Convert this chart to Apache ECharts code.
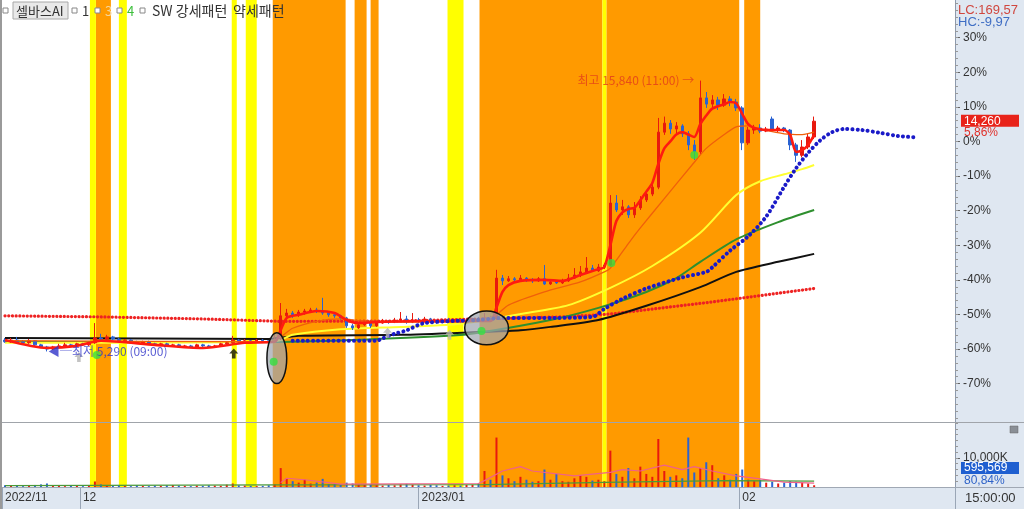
<!DOCTYPE html>
<html><head><meta charset="utf-8">
<script src="https://cdn.jsdelivr.net/npm/echarts@6/dist/echarts.min.js"></script>
<style>html,body{margin:0;padding:0;background:#fff;}#c{width:1024px;height:509px;}</style>
</head><body><div id="c"></div>
<script>
// ---------- DATA ----------
const N = 159; // bar slots on the time axis (incl. projection area)
// candles: [open, close, low, high] in % vs reference price
const candles = [
[-57.4,-57.9,-58.2,-56.8],[-57.9,-57.4,-58.2,-56.8],[-57.4,-57.9,-58.5,-56.5],[-57.9,-58.2,-58.8,-57.4],
[-58.2,-57.6,-58.5,-57.1],[-57.6,-58.8,-59.1,-57.4],[-58.8,-59.4,-59.7,-58.5],[-59.4,-60.0,-60.7,-59.1],
[-60.0,-59.4,-60.3,-59.1],[-59.4,-59.1,-59.7,-58.5],[-59.1,-58.8,-59.4,-58.2],[-58.8,-59.1,-59.4,-58.5],
[-59.1,-58.5,-59.4,-58.2],[-58.5,-58.8,-59.1,-58.2],[-58.8,-58.2,-59.1,-57.9],[-58.2,-56.8,-58.5,-52.5],
[-56.8,-57.1,-57.6,-55.6],[-57.1,-56.5,-57.4,-55.9],[-56.5,-57.1,-57.4,-56.2],[-57.1,-57.6,-57.9,-56.8],
[-57.6,-57.4,-57.9,-57.1],[-57.4,-57.9,-58.2,-57.1],[-57.9,-58.2,-58.5,-57.6],[-58.2,-57.9,-58.5,-57.6],
[-57.9,-58.5,-58.8,-57.6],[-58.5,-58.8,-59.1,-58.2],[-58.8,-58.5,-59.1,-58.2],[-58.5,-59.1,-59.4,-58.2],
[-59.1,-58.8,-59.4,-58.5],[-58.8,-59.4,-59.7,-58.5],[-59.4,-59.1,-59.7,-58.8],[-59.1,-59.4,-59.7,-58.8],
[-59.4,-58.8,-59.7,-58.5],[-58.8,-59.1,-59.4,-58.5],[-59.1,-59.4,-59.7,-58.8],[-59.4,-59.1,-59.7,-58.8],
[-59.1,-58.5,-59.4,-58.2],[-58.5,-58.2,-58.8,-57.9],[-58.2,-57.4,-58.5,-56.2],[-57.4,-57.9,-58.2,-57.1],
[-57.9,-57.6,-58.2,-57.1],[-57.6,-57.9,-58.2,-57.4],[-57.9,-57.4,-58.2,-57.1],[-57.4,-57.6,-57.9,-57.1],
[-57.6,-57.9,-58.2,-57.4],[-57.9,-57.1,-58.2,-55.9],[-57.1,-50.4,-57.4,-46.7],[-50.4,-49.6,-51.6,-48.4],
[-49.6,-50.1,-51.0,-49.0],[-50.1,-49.3,-50.7,-48.7],[-49.3,-49.0,-50.1,-48.4],[-49.0,-48.7,-49.6,-48.1],
[-48.7,-49.0,-49.6,-48.1],[-49.0,-49.6,-50.1,-45.2],[-49.6,-50.1,-50.7,-49.3],[-50.1,-50.4,-51.0,-49.6],
[-50.4,-51.0,-51.6,-50.1],[-51.0,-53.3,-53.9,-50.7],[-53.3,-53.9,-54.5,-52.7],[-53.9,-53.0,-54.2,-52.5],
[-53.0,-52.2,-53.3,-51.6],[-52.2,-53.3,-53.9,-51.9],[-53.3,-52.5,-53.6,-52.2],[-52.5,-51.9,-52.7,-51.3],
[-51.9,-52.2,-52.7,-51.6],[-52.2,-51.6,-52.5,-51.0],[-51.6,-51.3,-52.2,-49.3],[-51.3,-52.2,-52.7,-50.4],
[-52.2,-51.6,-52.5,-49.6],[-51.6,-51.9,-52.5,-51.0],[-51.9,-51.3,-52.2,-50.7],[-51.3,-51.9,-52.5,-51.0],
[-51.9,-52.2,-52.7,-51.6],[-52.2,-51.6,-52.5,-51.3],[-51.6,-51.9,-52.2,-51.0],[-51.9,-51.6,-52.2,-51.3],
[-51.6,-52.2,-52.5,-51.3],[-52.2,-51.9,-52.5,-51.6],[-51.9,-51.3,-52.2,-51.0],[-51.3,-51.6,-51.9,-50.7],
[-51.6,-51.0,-51.9,-49.6],[-51.0,-51.3,-51.9,-50.4],[-51.3,-39.5,-51.6,-37.1],[-39.5,-40.3,-41.5,-38.6],
[-40.3,-39.7,-40.6,-38.9],[-39.7,-40.0,-40.6,-39.2],[-40.0,-39.5,-40.3,-38.6],[-39.5,-40.0,-40.6,-39.2],
[-40.0,-40.3,-40.9,-39.5],[-40.3,-39.7,-40.6,-39.2],[-39.7,-41.2,-41.5,-35.7],[-41.2,-40.6,-41.5,-40.0],
[-40.6,-40.9,-41.2,-40.3],[-40.9,-40.3,-41.2,-39.7],[-40.3,-39.5,-40.6,-38.3],[-39.5,-38.6,-39.7,-36.6],
[-38.6,-37.7,-39.2,-36.0],[-37.7,-36.6,-38.0,-33.4],[-36.6,-37.4,-37.7,-35.7],[-37.4,-36.3,-37.7,-35.4],
[-36.3,-35.7,-36.9,-35.1],[-35.7,-17.8,-36.0,-15.5],[-17.8,-19.8,-20.4,-15.5],[-19.8,-18.9,-21.2,-16.9],
[-18.9,-21.2,-22.1,-18.4],[-21.2,-19.2,-22.1,-17.5],[-19.2,-16.9,-19.8,-15.8],[-16.9,-15.2,-17.5,-14.3],
[-15.2,-13.2,-15.8,-12.3],[-13.2,2.7,-13.8,6.8],[2.7,5.3,1.9,7.2],[5.3,3.6,2.2,6.2],
[3.6,4.5,1.9,5.6],[4.5,2.2,1.3,5.0],[2.2,-1.0,-2.5,3.0],[-1.0,-3.0,-5.3,0.4],
[-3.0,12.6,-3.6,17.6],[12.6,10.8,9.7,14.3],[10.8,12.0,9.4,13.4],[12.0,10.5,9.1,12.9],
[10.5,12.3,10.0,13.7],[12.3,11.4,10.2,13.1],[11.4,9.7,8.8,12.3],[9.7,-0.4,-2.5,10.2],
[-0.4,3.3,-1.0,4.2],[3.3,3.9,2.2,4.8],[3.9,3.0,2.4,5.0],[3.0,3.6,2.7,4.2],
[6.5,3.3,3.0,7.2],[3.3,3.9,2.7,4.5],[3.9,3.3,2.7,4.2],[3.3,-1.0,-2.5,3.6],
[-1.0,-4.0,-5.9,-0.4],[-4.0,-1.6,-4.6,0.4],[-1.6,1.3,-2.2,2.2],[1.3,5.86,0.7,7.2]
];
// volume per bar (thousand shares)
const volumes = [
600,400,500,300,400,700,900,1200,600,400,300,500,400,300,500,
1900,900,600,400,
500,400,300,600,400,300,500,400,600,700,500,400,300,500,400,600,500,400,800,1200,600,500,400,300,400,600,900,
6500,3000,2000,1500,2500,1200,1500,2800,1000,900,800,1500,1200,900,700,800,600,
500,700,600,900,1100,800,600,500,700,600,400,500,600,500,700,800,1200,
5500,2500,17000,4000,3000,2000,3500,2500,1800,2000,6000,2500,4500,2000,1800,3000,4000,3500,2200,2500,2000,
12500,4500,3500,6500,3000,7000,4500,3500,16500,5500,3500,4000,3000,17000,5000,6500,8500,7500,3000,4000,2500,4500,6000,2500,2000,2500,1500,1800,1200,1500,2000,1800,1500,1200,596
];
// moving averages: [bar, %]
const maShort = [[0,-57.4],[7,-59.7],[12,-59.1],[16,-57.6],[25,-58.8],[33,-59.7],[40,-58.2],[45,-57.9],[46,-54.5],[47,-51.0],[49,-50.1],[52,-49.0],[55,-49.6],[57,-51.6],[59,-52.5],[62,-52.2],[70,-51.9],[81,-51.9],[82,-48.0],[83,-43.5],[84,-41.5],[86,-40.3],[90,-40.0],[93,-40.3],[96,-38.6],[99,-36.9],[100,-36.3],[101,-30.0],[102,-23.0],[103,-20.5],[104,-19.5],[105,-19.2],[106,-17.0],[107,-14.5],[108,-12.0],[109,-6.5],[110,-2.0],[111,0.0],[112,2.0],[113,2.7],[114,2.0],[115,1.3],[116,5.0],[117,7.5],[118,9.5],[120,10.8],[121,11.4],[122,11.0],[123,8.0],[124,5.0],[125,3.9],[127,3.3],[130,3.3],[131,1.9],[132,-3.0],[133,-2.5],[134,-1.0],[135,1.9]];
const maMid = [[0,-57.6],[44,-57.9],[46,-56.5],[48,-54.0],[52,-52.0],[56,-51.3],[60,-51.9],[70,-52.2],[79,-51.9],[82,-50.0],[84,-47.3],[90,-43.5],[96,-40.6],[100,-37.7],[101,-36.6],[104,-29.5],[106,-25.0],[110,-16.5],[115,-6.0],[117,-2.0],[120,2.0],[122,4.2],[124,4.5],[126,3.6],[130,2.2],[133,2.0],[135,2.7]];
const maYellow = [[0,-58.2],[44,-58.0],[46,-57.4],[48,-55.9],[56,-54.3],[66,-53.6],[74,-53.0],[79,-52.0],[86,-49.9],[94,-47.3],[101,-42.3],[108,-36.0],[116,-26.4],[122,-15.5],[126,-11.5],[130,-9.5],[133,-8.0],[135,-6.8]];
const maGreen = [[0,-58.0],[44,-58.0],[58,-57.4],[74,-56.2],[79,-55.3],[91,-51.6],[99,-48.1],[107,-43.5],[112,-39.5],[116,-34.8],[122,-28.3],[129,-23.3],[135,-19.8]];
const maBlack = [[0,-56.8],[44,-57.1],[49,-56.2],[66,-55.9],[79,-55.1],[86,-54.6],[91,-53.6],[99,-51.6],[107,-47.5],[116,-42.1],[122,-37.7],[129,-34.8],[135,-32.5]];
const maLong = [[0,-50.4],[16,-50.7],[33,-51.3],[46,-52.0],[66,-51.9],[79,-51.3],[93,-50.7],[101,-49.9],[118,-46.4],[135,-42.5]];
const blueDots = [[48,-57.6],[62,-57.6],[63,-56.9],[65,-55.6],[67,-54.6],[70,-52.5],[79,-51.6],[83,-51.0],[92,-51.0],[98,-50.7],[100,-48.4],[103,-45.5],[107,-42.5],[113,-39.3],[117,-37.7],[118,-36.4],[121,-31.5],[124,-27.4],[127,-21.7],[130,-13.1],[132,-7.7],[134,-3.3],[136,0.3],[138,2.7],[140,3.6],[143,3.3],[146,2.5],[149,1.6],[152,1.2]];
const volMaPink = [[46,1500],[47,3000],[50,2500],[56,1000],[79,1200],[80,2200],[83,5500],[86,7000],[88,5500],[95,3800],[101,5000],[103,6000],[106,5500],[110,7500],[113,6000],[115,7000],[118,5500],[122,3800],[126,2800],[130,1700],[135,1300]];
const volMaGreen = [[0,500],[46,700],[80,800],[100,1600],[120,2200],[135,2000]];
// pattern periods (bar units, start-end)
const strongBands = [[15.67,18.17],[45.17,57.33],[58.83,60.83],[61.5,62.83],[79.67,100.17],[100.83,123],[123.83,126.5]];
const weakBands = [[14.67,15.67],[19.5,20.83],[38.33,39.17],[40.67,42.5],[74.33,77],[100.17,100.83]];
// highlighted pattern zones [barStart, barEnd, pctLow, pctHigh]
const zones = [[44.2,47.5,-70.0,-55.3],[77.2,84.5,-58.8,-49.0]];
// signals [bar, %]
const greenSignals = [[15.83,-61.7],[45.33,-63.7],[80,-54.8],[101.67,-35.1],[115.5,-3.9]];
const grayArrows = [[12.83,-62.3],[64.33,-55.3],[74.67,-55.9]];
const blackArrows = [[38.67,-61.3]];
const highPoint = [116, 17.6], highText = '최고 15,840 (11:00) →';
const lowPoint = [7, -60.7], lowText = '◀─최저 5,290 (09:00)';
const pctTicks = [30,20,10,0,-10,-20,-30,-40,-50,-60,-70];
const volTicks = [10000];
const dateTicks = [0, 13, 69.5, 123];
const dateLabels = ['2022/11','12','2023/01','02'];
const lastPrice = '14,260', lastPct = '5,86%', lastClose = 5.86;
const lastVol = '595,569', lastVolPct = '80,84%';

// ---------- CHART ----------
const cats = Array.from({length: N}, (_, i) => String(i));
const minorPct = []; for (let v = -80; v <= 40; v += 2) minorPct.push(v);
const minorVol = []; for (let v = 2000; v <= 22000; v += 2000) minorVol.push(v);
const NUM = "'Liberation Sans Narrow','Liberation Sans',sans-serif";
const KR = "'Noto Sans CJK KR',sans-serif";
const RED = '#e8190e', BLUE = '#2b63d2';
const PANE = {left:2, right:69, top:0, height:422}, VPANE = {left:2, right:69, top:423, height:64};

function bandSeries(data, color, xi, yi) {
  return { type:'custom', xAxisIndex:xi, yAxisIndex:yi, data, encode:{x:[0,1]}, silent:true, z:0,
    renderItem(params, api) {
      const x0 = api.coord([api.value(0), 0])[0];
      const x1 = api.coord([api.value(1), 0])[0];
      const cs = params.coordSys;
      return {type:'rect', shape:{x:x0, y:cs.y, width:x1-x0, height:cs.height}, style:{fill:color}};
    }};
}
function lineSeries(data, color, width, opts) {
  return Object.assign({ type:'line', xAxisIndex:0, yAxisIndex:0, data, symbol:'none', silent:true,
    smooth:0.25, lineStyle:{color, width}, z:3 }, opts || {});
}
const arrowPath = 'path://M5,0 L10,5 L7,5 L7,10 L3,10 L3,5 L0,5 Z';
const hiddenX = (g) => ({type:'value', gridIndex:g, min:0, max:N, show:false});

const option = {
  animation:false,
  textStyle:{fontFamily:NUM},
  grid:[PANE, VPANE, PANE, VPANE],
  xAxis:[
    {type:'category', gridIndex:0, data:cats, show:false, position:'bottom'},
    {type:'category', gridIndex:1, data:cats, show:false, position:'top'},
    {type:'value', gridIndex:0, min:0, max:N, show:false, position:'top'},
    {type:'value', gridIndex:1, min:0, max:N, position:'bottom', splitLine:{show:false},
     axisLine:{show:true, onZero:false, lineStyle:{color:'#9aa6b6'}},
     axisTick:{show:true, customValues:dateTicks, length:22, lineStyle:{color:'#9aa6b6'}},
     axisLabel:{customValues:dateTicks, formatter:v => dateLabels[dateTicks.indexOf(v)] || '', align:'left',
       padding:[0,0,0,3], margin:5, color:'#333', fontSize:12, fontFamily:NUM}},
    hiddenX(2), hiddenX(3)
  ],
  yAxis:[
    {type:'value', gridIndex:0, position:'right', min:-81.1, max:40.9, splitLine:{show:false},
     axisLine:{show:true, onZero:false, lineStyle:{color:'#8d9aad'}},
     axisTick:{show:true, customValues:pctTicks, length:5, lineStyle:{color:'#666'}},
     axisLabel:{customValues:pctTicks, formatter:v => v + '%', color:'#333', fontSize:12, margin:8, fontFamily:NUM}},
    {type:'value', gridIndex:2, position:'right', min:-81.1, max:40.9, splitLine:{show:false},
     axisLine:{show:false, onZero:false}, axisTick:{show:true, customValues:minorPct, length:3, lineStyle:{color:'#999'}},
     axisLabel:{show:false}},
    {type:'value', gridIndex:1, position:'right', min:0, max:22000, splitLine:{show:false},
     axisLine:{show:true, onZero:false, lineStyle:{color:'#8d9aad'}},
     axisTick:{show:true, customValues:volTicks, length:5, lineStyle:{color:'#666'}},
     axisLabel:{customValues:volTicks, formatter:() => '10,000K', color:'#333', fontSize:12, margin:8, fontFamily:NUM}},
    {type:'value', gridIndex:3, position:'right', min:0, max:22000, splitLine:{show:false},
     axisLine:{show:false, onZero:false}, axisTick:{show:true, customValues:minorVol, length:3, lineStyle:{color:'#999'}},
     axisLabel:{show:false}}
  ],
  series:[
    bandSeries(strongBands, '#ff9a00', 2, 0),
    bandSeries(weakBands, '#ffff00', 2, 0),
    bandSeries(strongBands, '#ff9a00', 3, 2),
    bandSeries(weakBands, '#ffff00', 3, 2),
    lineSeries(maLong, '#ee2222', 3.2, {smooth:false, lineStyle:{color:'#ee2222', width:3.2, type:[0.1,3.6], cap:'round'}}),
    lineSeries(maBlack, '#111111', 2),
    lineSeries(maGreen, '#2e8f2e', 2),
    lineSeries(maYellow, '#ffff30', 2),
    {type:'candlestick', xAxisIndex:0, yAxisIndex:0, data:candles, barWidth:3, silent:true, z:4,
     itemStyle:{color:RED, color0:BLUE, borderColor:RED, borderColor0:BLUE, borderWidth:1}},
    lineSeries(maMid, '#f0600a', 1.3, {z:5}),
    lineSeries(maShort, '#ff1a10', 2.6, {z:5}),
    lineSeries(blueDots, '#1a1ac8', 4, {z:6, smooth:0.3, lineStyle:{color:'#1a1ac8', width:4, type:[0.1,5], cap:'round'}}),
    {type:'custom', xAxisIndex:2, yAxisIndex:0, data:zones, encode:{x:[0,1], y:[2,3]}, silent:true, z:7,
     renderItem(params, api) {
       const p0 = api.coord([api.value(0), api.value(3)]);
       const p1 = api.coord([api.value(1), api.value(2)]);
       return {type:'ellipse', shape:{cx:(p0[0]+p1[0])/2, cy:(p0[1]+p1[1])/2, rx:(p1[0]-p0[0])/2, ry:(p1[1]-p0[1])/2},
         style:{fill:'rgba(160,165,175,0.72)', stroke:'#111', lineWidth:1.5}};
     }},
    {type:'scatter', xAxisIndex:2, yAxisIndex:0, data:greenSignals, symbol:'circle', symbolSize:8, silent:true, z:8,
     itemStyle:{color:'#35e040'}},
    {type:'scatter', xAxisIndex:2, yAxisIndex:0, data:grayArrows, symbol:arrowPath, symbolSize:[9,10], silent:true, z:8,
     itemStyle:{color:'#b4b4b4'}},
    {type:'scatter', xAxisIndex:2, yAxisIndex:0, data:blackArrows, symbol:arrowPath, symbolSize:[9,10], silent:true, z:8,
     itemStyle:{color:'#111'}},
    {type:'scatter', xAxisIndex:0, yAxisIndex:0, symbolSize:0, silent:true, z:9,
     data:[
       {value:highPoint, label:{show:true, position:'left', distance:6, formatter:highText, color:'#e23b1c', fontSize:12, fontFamily:KR}},
       {value:lowPoint, label:{show:true, position:'right', distance:1, formatter:lowText, color:'#2f33c8', fontSize:12, fontFamily:KR}}
     ]},
    {type:'bar', xAxisIndex:1, yAxisIndex:2, barWidth:2, silent:true, z:3,
     data:volumes.map((v, i) => ({value:v, itemStyle:{color: candles[i][1] >= candles[i][0] ? RED : BLUE}}))},
    {type:'line', xAxisIndex:1, yAxisIndex:2, data:volMaGreen, symbol:'none', silent:true, z:4, lineStyle:{color:'#4a9a3a', width:1.2}},
    {type:'line', xAxisIndex:1, yAxisIndex:2, data:volMaPink, symbol:'none', silent:true, z:4, lineStyle:{color:'#f0608a', width:1.2}}
  ]
};

const chart = echarts.init(document.getElementById('c'), null, {renderer:'canvas'});
chart.setOption(option);

const yLast = chart.convertToPixel({yAxisIndex:0}, lastClose);
function txt(x, y, text, font, fill, extra) {
  return Object.assign({type:'text', x, y, z:50, silent:true,
    style:{text, font, fill, align:'left', verticalAlign:'middle'}}, extra || {});
}
function sq(x) {
  return {type:'rect', z:50, silent:true, shape:{x, y:8, width:5, height:5}, style:{fill:'#fff', stroke:'#888', lineWidth:1}};
}
const graphics = [
  {type:'rect', z:-10, silent:true, shape:{x:955, y:0, width:69, height:509}, style:{fill:'#dfe7f1'}},
  {type:'rect', z:-10, silent:true, shape:{x:0, y:487, width:955, height:22}, style:{fill:'#dfe7f1'}},
  {type:'line', z:40, silent:true, shape:{x1:0, y1:422.5, x2:1024, y2:422.5}, style:{stroke:'#a0a4aa', lineWidth:1}},
  {type:'line', z:40, silent:true, shape:{x1:0, y1:487.5, x2:1024, y2:487.5}, style:{stroke:'#a0a8b4', lineWidth:1}},
  {type:'line', z:40, silent:true, shape:{x1:955.5, y1:487, x2:955.5, y2:509}, style:{stroke:'#9aa6b6', lineWidth:1}},
  {type:'line', z:40, silent:true, shape:{x1:1, y1:0, x2:1, y2:509}, style:{stroke:'#9a9a9a', lineWidth:2}},
  // legend
  sq(3),
  {type:'rect', z:50, silent:true, shape:{x:13, y:2, width:55, height:17}, style:{fill:'#e9e9e9', stroke:'#a8a8a8', lineWidth:1}},
  txt(16, 11, '셀바스AI', "13px 'Noto Sans CJK KR'", '#333'),
  sq(72), txt(82, 11, '1', "13px 'Noto Sans CJK KR'", '#333'),
  sq(95), txt(105, 11, '3', "13px 'Noto Sans CJK KR'", '#f6d59a'),
  sq(117), txt(127, 11, '4', "13px 'Noto Sans CJK KR'", '#3cbf3c'),
  sq(140), txt(152, 11, 'SW 강세패턴', "14px 'Noto Sans CJK KR'", '#333'),
  txt(233, 11, '약세패턴', "14px 'Noto Sans CJK KR'", '#333'),
  // right panel texts
  txt(958, 10, 'LC:169,57', "13px " + NUM, '#d0473f'),
  txt(958, 22, 'HC:-9,97', "13px " + NUM, '#3f6ec4'),
  {type:'rect', z:60, silent:true, shape:{x:961, y:yLast-6.5, width:58, height:12}, style:{fill:'#e8231a'}},
  txt(964, yLast, lastPrice, "12px " + NUM, '#fff', {z:61}),
  txt(964, yLast+11, lastPct, "12px " + NUM, '#e0302a', {z:61}),
  {type:'rect', z:60, silent:true, shape:{x:961, y:462, width:58, height:12}, style:{fill:'#1f5fd0'}},
  txt(964, 468, lastVol, "12px " + NUM, '#fff', {z:61}),
  txt(964, 481, lastVolPct, "12px " + NUM, '#2f63c8', {z:61}),
  {type:'rect', z:60, silent:true, shape:{x:1010, y:426, width:8, height:7}, style:{fill:'#8a8f96', stroke:'#666', lineWidth:0.5}},
  txt(965, 498, '15:00:00', "13px " + NUM, '#333')
];
chart.setOption({graphic: graphics});
</script>
</body></html>
